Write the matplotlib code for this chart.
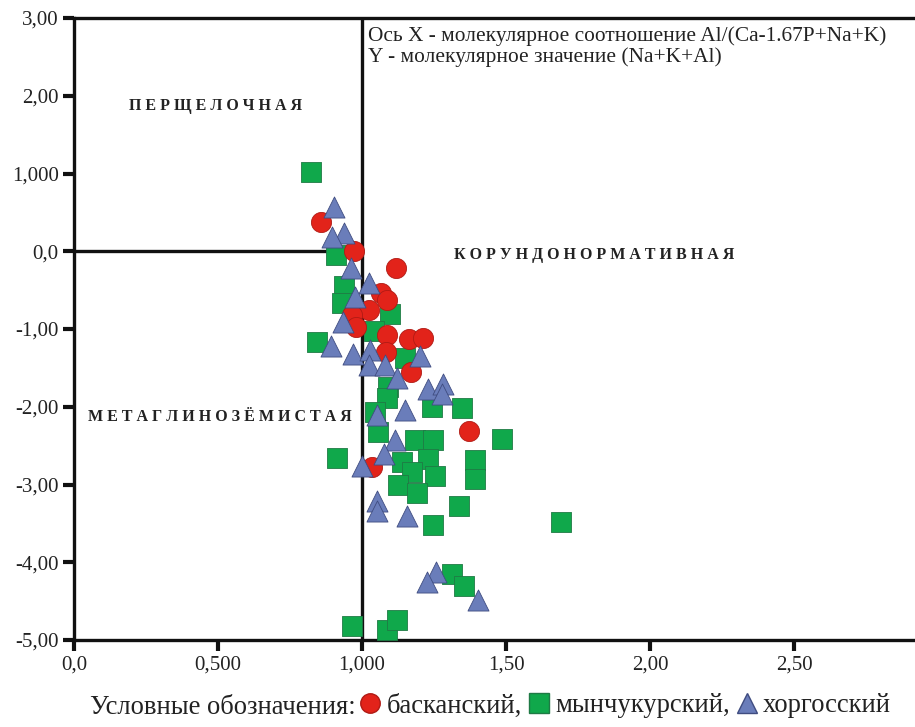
import matplotlib
matplotlib.use("Agg")
import matplotlib.pyplot as plt
from matplotlib.lines import Line2D

plt.rcParams['font.family'] = ['Liberation Serif', 'DejaVu Serif']

# --- data -------------------------------------------------------------
bask_x = [0.858, 0.972, 1.118, 1.066, 1.087, 1.024, 0.965, 0.979, 1.087, 1.163,
          1.212, 1.083, 1.170, 1.372, 1.035]
bask_y = [0.373, 0.0, -0.219, -0.540, -0.630, -0.759, -0.823, -0.977, -1.080, -1.132,
          -1.119, -1.299, -1.556, -2.315, -2.778]

mynch_x = [0.823, 0.910, 0.938, 0.931, 1.097, 1.042, 0.844, 1.149, 1.090, 1.087,
           1.243, 1.347, 1.045, 1.056, 1.184, 1.247, 1.486, 0.913, 1.139, 1.229,
           1.392, 1.174, 1.253, 1.392, 1.125, 1.191, 1.337, 1.247, 1.691, 1.313,
           1.354, 0.965, 1.087, 1.122]
mynch_y = [1.016, -0.051, -0.450, -0.669, -0.810, -1.029, -1.170, -1.376, -1.749, -1.891,
           -2.006, -2.019, -2.071, -2.328, -2.431, -2.431, -2.418, -2.662, -2.714, -2.675,
           -2.688, -2.842, -2.894, -2.932, -3.010, -3.113, -3.280, -3.524, -3.486, -4.154,
           -4.309, -4.823, -4.875, -4.746]

khor_x = [0.903, 0.938, 0.896, 0.962, 1.024, 0.976, 0.934, 0.892, 0.969, 1.028,
          1.024, 1.080, 1.201, 1.122, 1.229, 1.281, 1.278, 1.149, 1.052, 1.115,
          1.076, 1.000, 1.052, 1.052, 1.156, 1.257, 1.226, 1.403]
khor_y = [0.566, 0.232, 0.180, -0.219, -0.412, -0.592, -0.913, -1.222, -1.325, -1.273,
          -1.466, -1.466, -1.350, -1.633, -1.775, -1.711, -1.839, -2.045, -2.109, -2.431,
          -2.611, -2.765, -3.215, -3.344, -3.408, -4.129, -4.257, -4.489]

x_ticks = [0.0, 0.5, 1.0, 1.5, 2.0, 2.5]
x_ticklabels = ["0,0", "0,500", "1,000", "1,50", "2,00", "2,50"]
y_ticks = [3, 2, 1, 0, -1, -2, -3, -4, -5]
y_ticklabels = ["3,00", "2,00", "1,000", "0,0", "-1,00", "-2,00", "-3,00", "-4,00", "-5,00"]

series_names = ["басканский,", "мынчукурский,", "хоргосский"]

RED = "#E2231A"
GREEN = "#10A84B"
BLUE = "#6A7DBA"

# --- figure -----------------------------------------------------------
fig = plt.figure(figsize=(9.15, 7.27), dpi=100)
ax = fig.add_axes([74/915, 1-640/727, 1-74/915, (640-18)/727])
ax.set_xlim(0, 2.92)
ax.set_ylim(-5, 3)

for side in ['left', 'bottom', 'top']:
    ax.spines[side].set_linewidth(2.4)
    ax.spines[side].set_color('#111111')
ax.spines['right'].set_visible(False)

ax.plot([1, 1], [-5, 3], color='#111111', lw=2.4, zorder=1)
ax.plot([0, 1], [0, 0], color='#111111', lw=2.4, zorder=1)

ax.set_xticks(x_ticks)
ax.set_xticklabels(x_ticklabels)
ax.set_yticks(y_ticks)
ax.set_yticklabels(y_ticklabels)
ax.tick_params(axis='both', direction='out', length=8, width=3, color='#111111',
               labelsize=15, labelcolor='#222222', pad=3)

ax.scatter(mynch_x, mynch_y, marker='s', s=200, color=GREEN, edgecolors='#1F7A45',
           linewidths=0.6, zorder=3)
ax.scatter(bask_x, bask_y, marker='o', s=210, color=RED, edgecolors='#B01A14',
           linewidths=0.6, zorder=4)
ax.scatter(khor_x, khor_y, marker='^', s=230, color=BLUE, edgecolors='#3F4C80',
           linewidths=0.6, zorder=5)

bold = dict(fontweight='bold', fontsize=11.5, color='#222222', ha='center', va='center')
ax.text(0.49, 1.865, "П Е Р Щ Е Л О Ч Н А Я", **bold)
ax.text(1.806, -0.05, "К О Р У Н Д О Н О Р М А Т И В Н А Я", **bold)
ax.text(0.507, -2.135, "М Е Т А Г Л И Н О З Ё М И С Т А Я", **bold)

ax.text(1.02, 2.89, "Ось X - молекулярное соотношение Al/(Ca-1.67P+Na+K)\nY - молекулярное значение (Na+K+Al)",
        fontsize=15.4, color='#222222', ha='left', va='top', linespacing=1.08)

# legend line at bottom
handles = [Line2D([], [], marker='o', ls='', color=RED, markersize=14, markeredgecolor='#B01A14'),
           Line2D([], [], marker='s', ls='', color=GREEN, markersize=14, markeredgecolor='#1F7A45'),
           Line2D([], [], marker='^', ls='', color=BLUE, markersize=14, markeredgecolor='#3F4C80')]
fig.text(356/915, 1-707/727, "Условные обозначения:", fontsize=19.2, ha='right', va='center',
         color='#222222')
fig.legend(handles, series_names, loc='center left', bbox_to_anchor=(361/915, 1-706/727),
           ncol=3, frameon=False, fontsize=19.2, handlelength=0.7, handletextpad=0.25,
           columnspacing=0.3, borderaxespad=0, borderpad=0, labelcolor='#222222')

fig.savefig("out.png", dpi=100)
